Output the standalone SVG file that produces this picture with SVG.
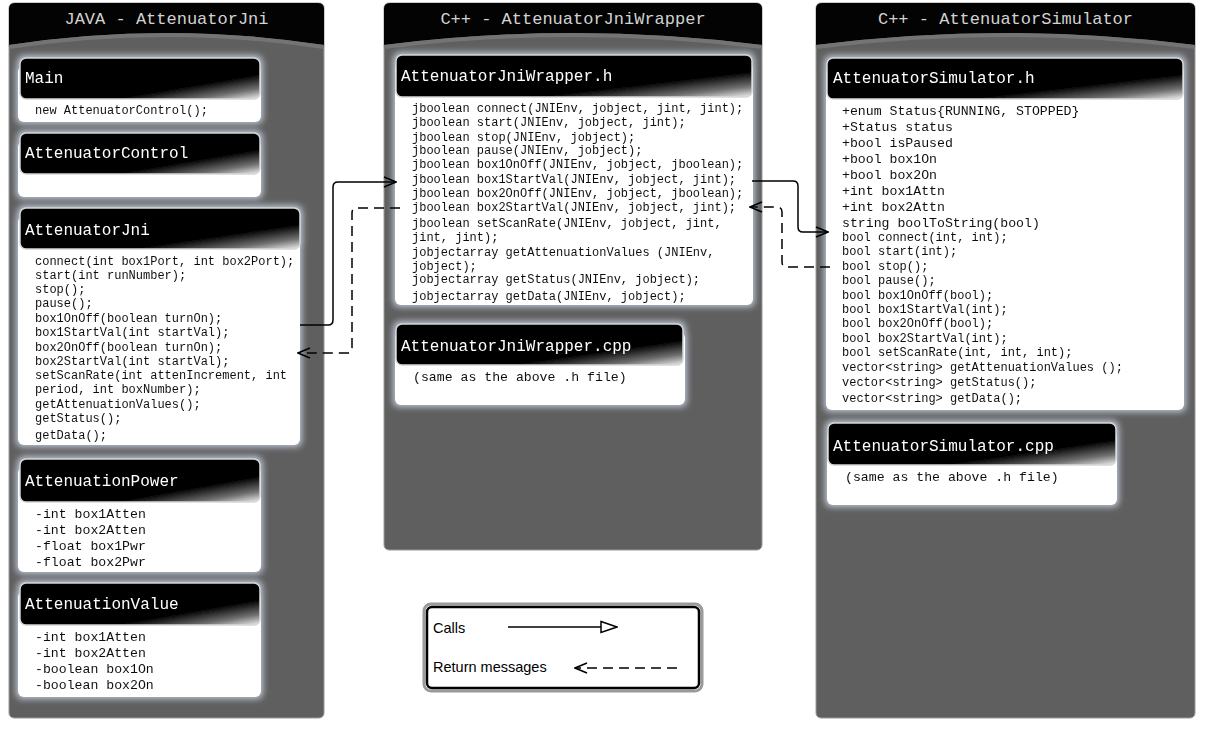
<svg xmlns="http://www.w3.org/2000/svg" width="1218" height="730" viewBox="0 0 1218 730">
<style>
.panel{fill:#5f5f5f;stroke:#9a9a9a;stroke-width:1}
.phead{fill:#030303}
.pband{fill:none;stroke:#747474;stroke-width:4}
.ptitle{font-family:"Liberation Mono","Courier New",monospace;font-size:17px;fill:#d2d2d2;text-anchor:middle}
.hd{fill:url(#hg);stroke:#d6d6d6;stroke-width:1.5}
.bd{fill:#fff}
.nt{font-family:"Liberation Mono","Courier New",monospace;font-size:16px;fill:#fff}
.tx{font-family:"Liberation Mono","Courier New",monospace;font-size:12px;fill:#111}
.tl{font-family:"Liberation Mono","Courier New",monospace;font-size:13.2px;fill:#111}
.call{fill:none;stroke:#000;stroke-width:1.5;marker-end:url(#open)}
.ret{fill:none;stroke:#000;stroke-width:1.5;stroke-dasharray:10 6;marker-end:url(#open)}
.lg{font-family:"Liberation Sans",Arial,sans-serif;font-size:14.5px;fill:#000}
</style>
<defs>
<linearGradient id="hg" x1="0" y1="0" x2="1" y2="1">
<stop offset="0" stop-color="#000"/>
<stop offset="0.7" stop-color="#040404"/>
<stop offset="0.87" stop-color="#707070"/>
<stop offset="1" stop-color="#f0f0f0"/>
</linearGradient>
<filter id="glow" x="-10%" y="-20%" width="120%" height="140%">
<feMorphology in="SourceAlpha" operator="dilate" radius="2" result="d"/>
<feGaussianBlur in="d" stdDeviation="3" result="b"/>
<feFlood flood-color="#bcc7d6"/>
<feComposite in2="b" operator="in" result="g"/>
<feMerge><feMergeNode in="g"/><feMergeNode in="SourceGraphic"/></feMerge>
</filter>
<marker id="open" viewBox="0 0 14 12" refX="13" refY="6" markerWidth="14" markerHeight="12" markerUnits="userSpaceOnUse" orient="auto">
<path d="M1,1 L13,6 L1,11" fill="none" stroke="#000" stroke-width="1.5" stroke-dasharray="none"/>
</marker>
<marker id="tri" viewBox="0 0 18 14" refX="17" refY="7" markerWidth="18" markerHeight="14" markerUnits="userSpaceOnUse" orient="auto">
<path d="M1,1.5 L17,7 L1,12.5 Z" fill="#fff" stroke="#000" stroke-width="1.5"/>
</marker>
</defs>
<rect width="1218" height="730" fill="#fff"/>

<g id="panel-java">
<rect class="panel" x="9" y="3" width="315" height="715" rx="5"/>
<path class="phead" d="M9,45 V9 Q9,3 15,3 H318 Q324,3 324,9 V45 Q166.5,21 9,45 Z"/>
<path class="pband" d="M9,47 Q166.5,23 324,47"/>
<text class="ptitle" x="166.5" y="24">JAVA - AttenuatorJni</text>
</g>
<g id="panel-wrapper">
<rect class="panel" x="384" y="3" width="378" height="547" rx="5"/>
<path class="phead" d="M384,45 V9 Q384,3 390,3 H756 Q762,3 762,9 V45 Q573,21 384,45 Z"/>
<path class="pband" d="M384,47 Q573,23 762,47"/>
<text class="ptitle" x="573" y="24">C++ - AttenuatorJniWrapper</text>
</g>
<g id="panel-simulator">
<rect class="panel" x="816" y="3" width="379" height="715" rx="5"/>
<path class="phead" d="M816,45 V9 Q816,3 822,3 H1189 Q1195,3 1195,9 V45 Q1005.5,21 816,45 Z"/>
<path class="pband" d="M816,47 Q1005.5,23 1195,47"/>
<text class="ptitle" x="1005.5" y="24">C++ - AttenuatorSimulator</text>
</g>

<g id="node-main" filter="url(#glow)">
<rect class="bd" x="18" y="66" width="243" height="56" rx="6"/>
<rect class="hd" x="20" y="58" width="240" height="41" rx="6"/>
<text class="nt" x="25" y="83">Main</text>
<text class="tx" x="35" y="114">new AttenuatorControl();</text>
</g>
<g id="node-attenuatorcontrol" filter="url(#glow)">
<rect class="bd" x="18" y="141" width="243" height="56" rx="6"/>
<rect class="hd" x="20" y="133" width="240" height="41" rx="6"/>
<text class="nt" x="25" y="158">AttenuatorControl</text>
</g>
<g id="node-attenuatorjni" filter="url(#glow)">
<rect class="bd" x="18" y="216" width="282" height="229" rx="6"/>
<rect class="hd" x="20" y="208" width="280" height="41" rx="6"/>
<text class="nt" x="25" y="235">AttenuatorJni</text>
<text class="tx" x="35" y="265">connect(int box1Port, int box2Port);</text>
<text class="tx" x="35" y="279">start(int runNumber);</text>
<text class="tx" x="35" y="293">stop();</text>
<text class="tx" x="35" y="307">pause();</text>
<text class="tx" x="35" y="322">box1OnOff(boolean turnOn);</text>
<text class="tx" x="35" y="336">box1StartVal(int startVal);</text>
<text class="tx" x="35" y="351">box2OnOff(boolean turnOn);</text>
<text class="tx" x="35" y="365">box2StartVal(int startVal);</text>
<text class="tx" x="35" y="379">setScanRate(int attenIncrement, int</text>
<text class="tx" x="35" y="393">period, int boxNumber);</text>
<text class="tx" x="35" y="408">getAttenuationValues();</text>
<text class="tx" x="35" y="422">getStatus();</text>
<text class="tx" x="35" y="439">getData();</text>
</g>
<g id="node-attenuationpower" filter="url(#glow)">
<rect class="bd" x="18" y="467" width="243" height="105" rx="6"/>
<rect class="hd" x="20" y="459" width="240" height="43" rx="6"/>
<text class="nt" x="25" y="486">AttenuationPower</text>
<text class="tl" x="35" y="518">-int box1Atten</text>
<text class="tl" x="35" y="534">-int box2Atten</text>
<text class="tl" x="35" y="550">-float box1Pwr</text>
<text class="tl" x="35" y="566">-float box2Pwr</text>
</g>
<g id="node-attenuationvalue" filter="url(#glow)">
<rect class="bd" x="18" y="591" width="243" height="106" rx="6"/>
<rect class="hd" x="20" y="583" width="240" height="42" rx="6"/>
<text class="nt" x="25" y="609">AttenuationValue</text>
<text class="tl" x="35" y="641">-int box1Atten</text>
<text class="tl" x="35" y="657">-int box2Atten</text>
<text class="tl" x="35" y="673">-boolean box1On</text>
<text class="tl" x="35" y="689">-boolean box2On</text>
</g>

<g id="node-wrapper-h" filter="url(#glow)">
<rect class="bd" x="395" y="63" width="358" height="242" rx="6"/>
<rect class="hd" x="396" y="55" width="356" height="42" rx="6"/>
<text class="nt" x="401" y="81">AttenuatorJniWrapper.h</text>
<text class="tx" x="412" y="112">jboolean connect(JNIEnv, jobject, jint, jint);</text>
<text class="tx" x="412" y="126">jboolean start(JNIEnv, jobject, jint);</text>
<text class="tx" x="412" y="141">jboolean stop(JNIEnv, jobject);</text>
<text class="tx" x="412" y="154">jboolean pause(JNIEnv, jobject);</text>
<text class="tx" x="412" y="168">jboolean box1OnOff(JNIEnv, jobject, jboolean);</text>
<text class="tx" x="412" y="183">jboolean box1StartVal(JNIEnv, jobject, jint);</text>
<text class="tx" x="412" y="197">jboolean box2OnOff(JNIEnv, jobject, jboolean);</text>
<text class="tx" x="412" y="211">jboolean box2StartVal(JNIEnv, jobject, jint);</text>
<text class="tx" x="412" y="227">jboolean setScanRate(JNIEnv, jobject, jint,</text>
<text class="tx" x="412" y="241">jint, jint);</text>
<text class="tx" x="412" y="256">jobjectarray getAttenuationValues (JNIEnv,</text>
<text class="tx" x="412" y="270">jobject);</text>
<text class="tx" x="412" y="283">jobjectarray getStatus(JNIEnv, jobject);</text>
<text class="tx" x="412" y="300">jobjectarray getData(JNIEnv, jobject);</text>
</g>
<g id="node-wrapper-cpp" filter="url(#glow)">
<rect class="bd" x="395" y="332" width="290" height="73" rx="6"/>
<rect class="hd" x="396" y="324" width="287" height="41" rx="6"/>
<text class="nt" x="401" y="351">AttenuatorJniWrapper.cpp</text>
<text class="tl" x="413" y="381">(same as the above .h file)</text>
</g>

<g id="node-simulator-h" filter="url(#glow)">
<rect class="bd" x="826" y="66" width="358" height="344" rx="6"/>
<rect class="hd" x="827" y="58" width="356" height="41" rx="6"/>
<text class="nt" x="833" y="83">AttenuatorSimulator.h</text>
<text class="tl" x="842" y="114.5">+enum Status{RUNNING, STOPPED}</text>
<text class="tl" x="842" y="130.5">+Status status</text>
<text class="tl" x="842" y="146.5">+bool isPaused</text>
<text class="tl" x="842" y="162.5">+bool box1On</text>
<text class="tl" x="842" y="178.5">+bool box2On</text>
<text class="tl" x="842" y="194.5">+int box1Attn</text>
<text class="tl" x="842" y="210.5">+int box2Attn</text>
<text class="tl" x="842" y="226.5">string boolToString(bool)</text>
<text class="tx" x="842" y="241">bool connect(int, int);</text>
<text class="tx" x="842" y="255">bool start(int);</text>
<text class="tx" x="842" y="270">bool stop();</text>
<text class="tx" x="842" y="284">bool pause();</text>
<text class="tx" x="842" y="299">bool box1OnOff(bool);</text>
<text class="tx" x="842" y="313">bool box1StartVal(int);</text>
<text class="tx" x="842" y="327">bool box2OnOff(bool);</text>
<text class="tx" x="842" y="342">bool box2StartVal(int);</text>
<text class="tx" x="842" y="356">bool setScanRate(int, int, int);</text>
<text class="tx" x="842" y="371">vector&lt;string&gt; getAttenuationValues ();</text>
<text class="tx" x="842" y="386">vector&lt;string&gt; getStatus();</text>
<text class="tx" x="842" y="402">vector&lt;string&gt; getData();</text>
</g>
<g id="node-simulator-cpp" filter="url(#glow)">
<rect class="bd" x="827" y="431" width="290" height="74" rx="6"/>
<rect class="hd" x="828" y="423" width="288" height="42" rx="6"/>
<text class="nt" x="833" y="451">AttenuatorSimulator.cpp</text>
<text class="tl" x="845" y="481">(same as the above .h file)</text>
</g>

<g id="connectors">
<path class="call" d="M300,325 H328 Q333,325 333,320 V187 Q333,182 338,182 H396"/>
<path class="ret" d="M400,208 H357 Q352,208 352,213 V348 Q352,353 347,353 H298"/>
<path class="call" d="M752,181 H793 Q798,181 798,186 V227 Q798,232 803,232 H828"/>
<path class="ret" d="M830,267 H787 Q782,267 782,262 V212 Q782,207 777,207 H750"/>
</g>

<g id="legend">
<rect x="424" y="604" width="278" height="87" rx="7" fill="#fff" stroke="#9a9a9a" stroke-width="3"/>
<rect x="427" y="607" width="272" height="81" rx="5" fill="none" stroke="#000" stroke-width="2.5"/>
<text class="lg" x="433" y="633">Calls</text>
<text class="lg" x="433" y="672">Return messages</text>
<path d="M508,627 H617" fill="none" stroke="#000" stroke-width="1.5" marker-end="url(#tri)"/>
<path d="M677,668 H575" fill="none" stroke="#000" stroke-width="1.5" stroke-dasharray="10 6" marker-end="url(#open)"/>
</g>
</svg>
